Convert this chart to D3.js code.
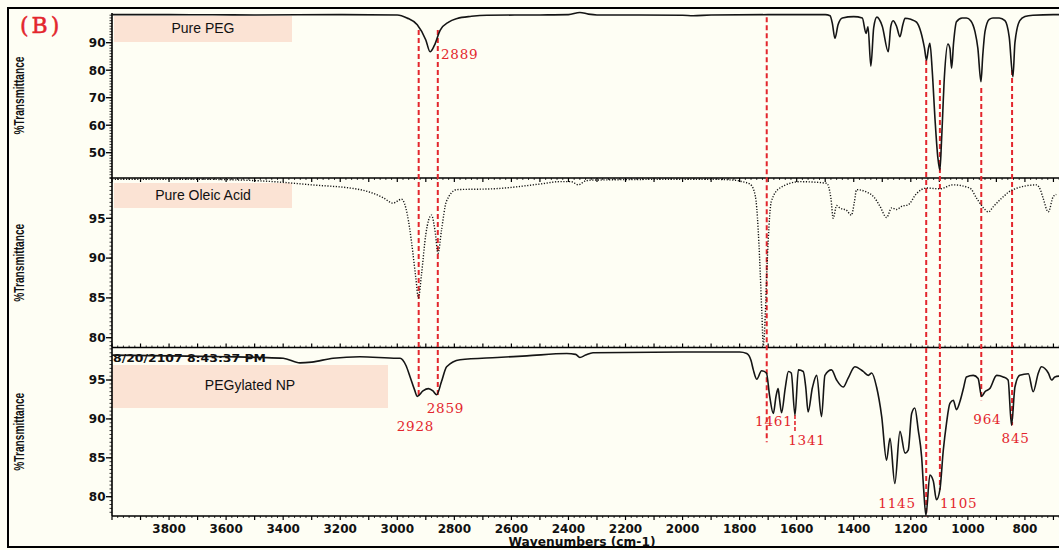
<!DOCTYPE html>
<html><head><meta charset="utf-8">
<script src="https://cdn.jsdelivr.net/npm/d3@7"></script>
<style>html,body{margin:0;padding:0;background:#fefef4;}svg{display:block;}</style>
</head><body>
<svg id="c" width="1059" height="550"></svg>
<script>
// ---------- DATA ----------
const seriesNames = ["Pure PEG", "Pure Oleic Acid", "PEGylated NP"];

const pegWn = [4000,3800,3500,3200,3000,2966,2930,2900,2885,2870,2850,2820,2790,2740,2686,2500,2400,2360,2330,2300,2000,1963,1900,1700,1500,1483,1475,1466,1455,1440,1400,1370,1357,1350,1340,1330,1319,1300,1279,1270,1262,1250,1238,1228,1220,1200,1180,1165,1152,1145,1138,1133,1125,1115,1105,1098,1092,1082,1070,1063,1057,1050,1040,1020,1005,990,975,965,954,948,940,925,912,890,870,855,842,835,818,800,772,700,670];
const pegT  = [100.2,100.2,100.1,100.2,100.1,99.0,96.5,91,86.7,89,94.5,97.5,98.8,99.6,100.0,100.1,100.2,101.0,100.4,100.1,100.0,99.8,100.1,100.2,100.2,99.8,97,91.6,96.5,99.0,99.5,99.0,93.4,95.8,81.5,95.5,99.3,96,86.7,96,98,96,92.2,96.5,98.9,98.5,97.5,94,88,83.7,88,89.8,80,62,48,43.7,55,78,89.5,88,80.7,90,97.6,99.0,99.0,98.0,94,88,75.8,85,94,98.5,99.0,99.0,98,92,77.6,90,98,99.5,100.0,100.2,100.2];

const oleWn = [4000,3700,3480,3300,3131,3050,3015,2985,2965,2950,2935,2926,2915,2900,2880,2868,2857,2845,2828,2792,2665,2500,2430,2390,2365,2340,2314,2000,1900,1823,1790,1764,1750,1740,1730,1722,1717,1710,1705,1700,1689,1659,1588,1495,1480,1472,1460,1449,1425,1408,1398,1390,1355,1330,1308,1285,1267,1250,1232,1209,1180,1145,1098,1052,993,969,945,928,910,888,842,759,745,736,718,701,690];
const oleT  = [99.9,99.9,99.7,99.2,98.6,97.6,96.9,97.4,95.5,92,87.5,85.0,88,93,95.4,93.5,90.6,93.5,97.1,98.6,98.7,99.3,99.6,99.6,99.2,99.7,99.8,99.9,99.9,99.8,99.6,99.3,98.5,96.3,90,83,79,83,88,92.1,97.1,98.8,99.6,99.4,97.5,95,96.6,96.3,96,95.4,97,98.6,98.3,97.7,96.5,95.1,96.3,96.1,96.5,96.7,98.1,98.8,98.7,99.2,98.8,97.5,96.3,95.8,96.5,97.3,98.6,99.2,98.5,97.5,95.8,97.7,98];

const npWn = [4000,3800,3600,3480,3400,3341,3300,3225,3131,3000,2990,2970,2955,2940,2930,2910,2891,2875,2862,2845,2827,2780,2650,2546,2406,2375,2360,2340,2314,2000,1800,1775,1760,1752,1740,1723,1706,1695,1682,1672,1665,1660,1653,1640,1629,1619,1606,1594,1577,1568,1560,1545,1530,1513,1501,1478,1460,1437,1420,1396,1367,1349,1337,1320,1302,1285,1273,1256,1238,1220,1209,1197,1186,1174,1162,1155,1147,1133,1121,1110,1098,1086,1075,1063,1051,1040,1028,1015,1005,981,964,952,940,923,899,876,859,847,835,818,788,771,753,742,718,706,695,680];
const npT  = [98.2,98.1,98.0,97.9,97.8,97.2,97.3,97.8,98.0,97.8,97.8,96.9,95.4,93.8,92.9,93.6,93.9,93.6,93.1,94.8,96.7,97.6,97.9,98.1,98.4,98.3,97.9,98.2,98.5,98.6,98.6,98.4,97.5,96.3,95.1,96.2,95.9,93,90.7,93,93.9,92.5,90.8,94,96.1,95.9,90.5,96.3,96.1,94,90.9,94,95.6,90.3,95.6,96.3,95.0,94.1,95.2,96.7,96.1,95.6,95.9,94.1,90.3,84.7,87.5,81.7,88.4,85.6,86.0,90.7,91.4,88.6,85.1,81,77.6,82.8,82.0,79.6,80.9,86.0,89.4,92.0,92.4,91.2,92.2,94,95.4,95.6,95.2,92.9,93.5,93.9,95.6,95.4,95.0,89.2,94.1,95.6,95.8,93.5,95.9,96.7,95.9,95.0,95.4,95.5];

// x-axis tick labels
const xTickLabels = [3800,3600,3400,3200,3000,2800,2600,2400,2200,2000,1800,1600,1400,1200,1000,800];
// y-axis tick labels per panel
const yTicksPeg = [50,60,70,80,90];
const yTicksOle = [80,85,90,95];
const yTicksNp  = [80,85,90,95];

// red marker lines: wavenumber, top value (in PEG panel), bottom value (in NP panel)
const markerWn     = [2925,2858,1705,1146,1098,953,845];
const markerTopT   = [94.6,94.6,99.3,83.7,76.4,73.5,80.1];
const markerBotT   = [92.8,92.8,87.0,77.5,80.9,92.4,89.2];
// short marker in NP panel
const shortWn = [1606]; const shortT1 = [90.5]; const shortT2 = [88.4];

// peak annotations
const annText  = ["2889","2859","2928","1461","1341","1145","1105","964","845"];
const annPanel = [0,2,2,2,2,2,2,2,2];
const annWn    = [2847,2897,3002,1746,1630,1314,1098,981,882];
const annT     = [83.9,90.8,88.4,89.1,86.6,78.6,78.6,89.3,86.9];

// ---------- LAYOUT ----------
const svg = d3.select("#c");
const W = 1059, H = 550;
const red = "#e3262d";
const x = d3.scaleLinear().domain([4000,670]).range([112,1062]);
const panels = [
  {top:13, bottom:178, dom:[40.8,100.8], ticks:yTicksPeg, minor:1, wn:pegWn, t:pegT},
  {top:178, bottom:347.5, dom:[78.77,100.06], ticks:yTicksOle, minor:0.5, wn:oleWn, t:oleT, dotted:true},
  {top:347.5, bottom:516, dom:[77.52,99.18], ticks:yTicksNp, minor:0.5, wn:npWn, t:npT}
];
panels.forEach(p => { p.y = d3.scaleLinear().domain(p.dom).range([p.bottom,p.top]); });

svg.append("rect").attr("width",W).attr("height",H).attr("fill","#fefef4");
// outer frame
svg.append("rect").attr("x",8).attr("y",8).attr("width",1070).attr("height",539)
  .attr("fill","none").attr("stroke","#000").attr("stroke-width",2);

// legend boxes
const boxes = [
  {x0:114,x1:292,y0:16,y1:42,tx:203,ty:33},
  {x0:114,x1:292,y0:183,y1:208,tx:203,ty:200},
  {x0:112,x1:388,y0:365,y1:408,tx:250,ty:389.5}
];
boxes.forEach((b,i)=>{
  svg.append("rect").attr("x",b.x0).attr("y",b.y0).attr("width",b.x1-b.x0).attr("height",b.y1-b.y0).attr("fill","#fbe3d4");
  svg.append("text").attr("x",b.tx).attr("y",b.ty).attr("text-anchor","middle")
    .attr("font-family","Liberation Sans, Arial, sans-serif").attr("font-size",14).attr("fill","#111").text(seriesNames[i]);
});

// date stamp
svg.append("text").attr("x",113).attr("y",361.5).attr("font-family","DejaVu Sans, sans-serif")
  .attr("font-weight","bold").attr("font-size",11).attr("textLength",153).attr("lengthAdjust","spacingAndGlyphs")
  .attr("fill","#111").text("8/20/2107 8:43:37 PM");

// y axes
panels.forEach((p,i)=>{
  const g = svg.append("g");
  g.append("line").attr("x1",112).attr("x2",112).attr("y1",p.top).attr("y2",p.bottom).attr("stroke","#000").attr("stroke-width",1.6);
  const lo = Math.ceil(p.dom[0]/p.minor)*p.minor;
  for(let v=lo; v<=p.dom[1]; v+=p.minor){
    const yy = p.y(v);
    g.append("line").attr("x1",109.5).attr("x2",112).attr("y1",yy).attr("y2",yy).attr("stroke","#000").attr("stroke-width",0.8);
  }
  p.ticks.forEach(v=>{
    const yy=p.y(v);
    g.append("line").attr("x1",106).attr("x2",112).attr("y1",yy).attr("y2",yy).attr("stroke","#000").attr("stroke-width",1.3);
    g.append("text").attr("x",105.5).attr("y",yy).attr("dy","0.36em").attr("text-anchor","end")
      .attr("font-family","DejaVu Sans, sans-serif").attr("font-weight","bold").attr("font-size",12).attr("fill","#111").text(v);
  });
  const mid=(p.top+p.bottom)/2;
  g.append("text").attr("transform",`translate(24,${mid}) rotate(-90)`).attr("text-anchor","middle")
    .attr("font-family","Liberation Sans, Arial, sans-serif").attr("font-weight","bold").attr("font-size",14.5)
    .attr("textLength",78).attr("lengthAdjust","spacingAndGlyphs").attr("fill","#111").text("%Transmittance");
});

// horizontal axes / separators
function hAxis(yy, dir, labels){
  const g = svg.append("g");
  g.append("line").attr("x1",112).attr("x2",W).attr("y1",yy).attr("y2",yy).attr("stroke","#000").attr("stroke-width",1.5);
  for(let v=4000; v>=670; v-=20){
    const xx=x(v); const major = v%100===0;
    g.append("line").attr("x1",xx).attr("x2",xx).attr("y1",yy).attr("y2",yy+dir*(major?4:2))
      .attr("stroke","#000").attr("stroke-width",major?1.2:0.8);
  }
  if(labels){
    xTickLabels.forEach(v=>{
      g.append("text").attr("x",x(v)).attr("y",yy+16.5).attr("text-anchor","middle")
        .attr("font-family","DejaVu Sans, sans-serif").attr("font-weight","bold").attr("font-size",12).attr("fill","#111").text(v);
    });
    g.append("text").attr("x",582).attr("y",545.5).attr("text-anchor","middle")
      .attr("font-family","DejaVu Sans, sans-serif").attr("font-weight","bold").attr("font-size",11.5)
      .attr("textLength",147).attr("lengthAdjust","spacingAndGlyphs").attr("fill","#111").text("Wavenumbers (cm-1)");
  }
}
hAxis(178, 1, false);
hAxis(347.5, -1, false);
hAxis(516, 1, true);

// red marker lines
markerWn.forEach((w,i)=>{
  svg.append("line").attr("x1",x(w)).attr("x2",x(w))
    .attr("y1",panels[0].y(markerTopT[i])).attr("y2",panels[2].y(markerBotT[i]))
    .attr("stroke",red).attr("stroke-width",2).attr("stroke-dasharray","5,3");
});
shortWn.forEach((w,i)=>{
  svg.append("line").attr("x1",x(w)).attr("x2",x(w))
    .attr("y1",panels[2].y(shortT1[i])).attr("y2",panels[2].y(shortT2[i]))
    .attr("stroke",red).attr("stroke-width",1.6).attr("stroke-dasharray","4,2");
});

// spectra
panels.forEach(p=>{
  const pts = p.wn.map((w,i)=>[x(w), p.y(p.t[i])]);
  const line = d3.line().curve(d3.curveMonotoneX);
  svg.append("path").attr("d",line(pts)).attr("fill","none").attr("stroke","#151515")
    .attr("stroke-width", p.dotted?1.4:1.6)
    .attr("stroke-dasharray", p.dotted?"1.2,1.6":null);
});

// annotations
annText.forEach((t,i)=>{
  const p = panels[annPanel[i]];
  svg.append("text").attr("x",x(annWn[i])).attr("y",p.y(annT[i]))
    .attr("font-family","DejaVu Serif, serif").attr("font-size",13.5).attr("letter-spacing",0.8)
    .attr("fill",red).text(t);
});

// panel label
svg.append("text").attr("x",20).attr("y",33).attr("font-family","DejaVu Serif, serif")
  .attr("font-size",22).attr("letter-spacing",3).attr("fill",red)
  .attr("stroke",red).attr("stroke-width",0.5).text("(B)");
</script>
</body></html>
